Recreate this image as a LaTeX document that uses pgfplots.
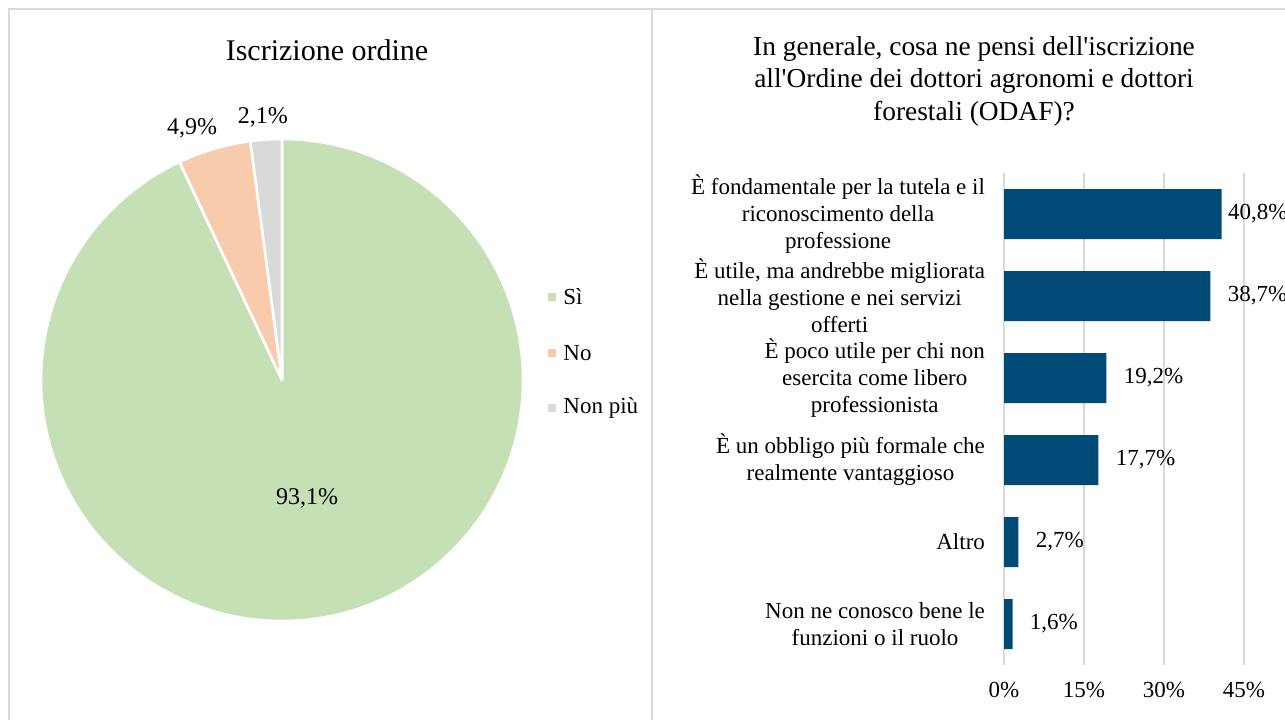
\documentclass[border=0pt]{standalone}
\usepackage{fontspec}
\setmainfont{Liberation Serif}
\newfontfamily\plainfont{Liberation Serif}[Ligatures=TeXOff]
\usepackage{pgfplots}
\usepackage{pgfplotstable}
\pgfplotsset{compat=1.18}
\definecolor{csi}{HTML}{C5E0B4}
\definecolor{cno}{HTML}{F8CBAD}
\definecolor{cnp}{HTML}{D9D9D9}
\definecolor{cbar}{HTML}{004A77}
\definecolor{cgrid}{HTML}{D9D9D9}

\pgfplotstableread{
idx value
0 93.1
1 4.9
2 2.1
}\piedata

\pgfplotstableread{
pos value off
5 40.8 3
4 38.7 8.5
3 19.2 8.5
2 17.7 8.5
1 2.7 8.5
0 1.6 8.5
}\bardata

% cumulative angles of the pie slices (clockwise from 12 o'clock)
\xdef\acc{0}
\foreach \i in {0,1,2}{
  \pgfplotstablegetelem{\i}{value}\of\piedata
  \pgfmathsetmacro\vv{\pgfplotsretval}
  \pgfmathsetmacro\sa{90-(\acc/100.1)*360}
  \pgfmathsetmacro\ea{90-((\acc+\vv)/100.1)*360}
  \expandafter\xdef\csname sa\i\endcsname{\sa}
  \expandafter\xdef\csname ea\i\endcsname{\ea}
  \pgfmathsetmacro\na{\acc+\vv}
  \xdef\acc{\na}
}

\begin{document}
\begin{tikzpicture}
\useasboundingbox (0,0) rectangle (642.5pt,-359.5pt);
\clip (0,0) rectangle (642.5pt,-359.5pt);
\begin{scope}[x=0.5pt,y=-0.5pt]
\draw[cgrid, line width=1pt] (9,760) -- (9,9) -- (1300,9);
\draw[cgrid, line width=1pt] (652,9) -- (652,760);
\node[font=\fontsize{15}{18}\selectfont] at (327,50) {Iscrizione ordine};
\node[font=\plainfont\fontsize{13.7}{16.25}\selectfont, align=center] at (974,81)
  {In generale, cosa ne pensi dell'iscrizione\\all'Ordine dei dottori agronomi e dottori\\forestali (ODAF)?};
\fill[csi] (548,293) rectangle (556,301);
\node[anchor=west, font=\fontsize{11.5}{13.5}\selectfont, inner sep=0] at (563,297) {Sì};
\fill[cno] (548,349) rectangle (556,357);
\node[anchor=west, font=\fontsize{11.5}{13.5}\selectfont, inner sep=0] at (563,353) {No};
\fill[cnp] (548,404) rectangle (556,412);
\node[anchor=west, font=\fontsize{11.5}{13.5}\selectfont, inner sep=0] at (563,408) {Non più};
\end{scope}

\begin{axis}[at={(141pt,-190pt)}, anchor=center, hide axis, scale only axis,
  xmin=-1, xmax=1, ymin=-1, ymax=1, x=120.5pt, y=120.5pt, clip=false]
\fill[csi, draw=white, line width=1.3pt, line join=round]
  (axis cs:0,0) -- (axis cs:{cos(\csname sa0\endcsname)},{sin(\csname sa0\endcsname)})
  arc[start angle=\csname sa0\endcsname, end angle=\csname ea0\endcsname, radius=120.5pt] -- cycle;
\fill[cno, draw=white, line width=1.3pt, line join=round]
  (axis cs:0,0) -- (axis cs:{cos(\csname sa1\endcsname)},{sin(\csname sa1\endcsname)})
  arc[start angle=\csname sa1\endcsname, end angle=\csname ea1\endcsname, radius=120.5pt] -- cycle;
\fill[cnp, draw=white, line width=1.3pt, line join=round]
  (axis cs:0,0) -- (axis cs:{cos(\csname sa2\endcsname)},{sin(\csname sa2\endcsname)})
  arc[start angle=\csname sa2\endcsname, end angle=\csname ea2\endcsname, radius=120.5pt] -- cycle;
\node[font=\fontsize{12}{14}\selectfont] at (axis cs:0.104,-0.49) {93,1\%};
\node[font=\fontsize{12}{14}\selectfont] at (axis cs:-0.373,1.046) {4,9\%};
\node[font=\fontsize{12}{14}\selectfont] at (axis cs:-0.079,1.09) {2,1\%};
\end{axis}

\begin{axis}[at={(502pt,-332.5pt)}, anchor=south west, xbar, scale only axis,
  width=120pt, height=246pt, xmin=0, xmax=45, ymin=-0.5, ymax=5.5,
  bar width=25pt, xtick={0,15,30,45}, ytick={0,1,2,3,4,5},
  yticklabels={{Non ne conosco bene le\\funzioni o il ruolo},{Altro},
    {È un obbligo più formale che\\realmente vantaggioso},
    {È poco utile per chi non\\esercita come libero\\professionista},
    {È utile, ma andrebbe migliorata\\nella gestione e nei servizi\\offerti},
    {È fondamentale per la tutela e il\\riconoscimento della\\professione}},
  axis line style={draw=none}, major tick length=0,
  xmajorgrids, grid style={cgrid, line width=1pt},
  tick label style={font=\fontsize{11.5}{13.5}\selectfont},
  /pgf/number format/assume math mode=true,
  xticklabel={\pgfmathprintnumber{\tick}\%},
  xticklabel style={yshift=-5pt},
  yticklabel style={align=center, anchor=east, xshift=-6pt},
  clip=false]
\addplot[fill=cbar, draw=none,
  point meta=x,
  visualization depends on={\thisrow{off}\as\off},
  nodes near coords={\pgfmathprintnumber[fixed,fixed zerofill,precision=1,use comma]{\pgfplotspointmeta}\%},
  every node near coord/.append style={anchor=west, inner sep=0pt, xshift=\off pt,
    font=\fontsize{11.5}{13.5}\selectfont, text=black}]
  table[x=value, y=pos]{\bardata};
\end{axis}
\end{tikzpicture}
\end{document}
